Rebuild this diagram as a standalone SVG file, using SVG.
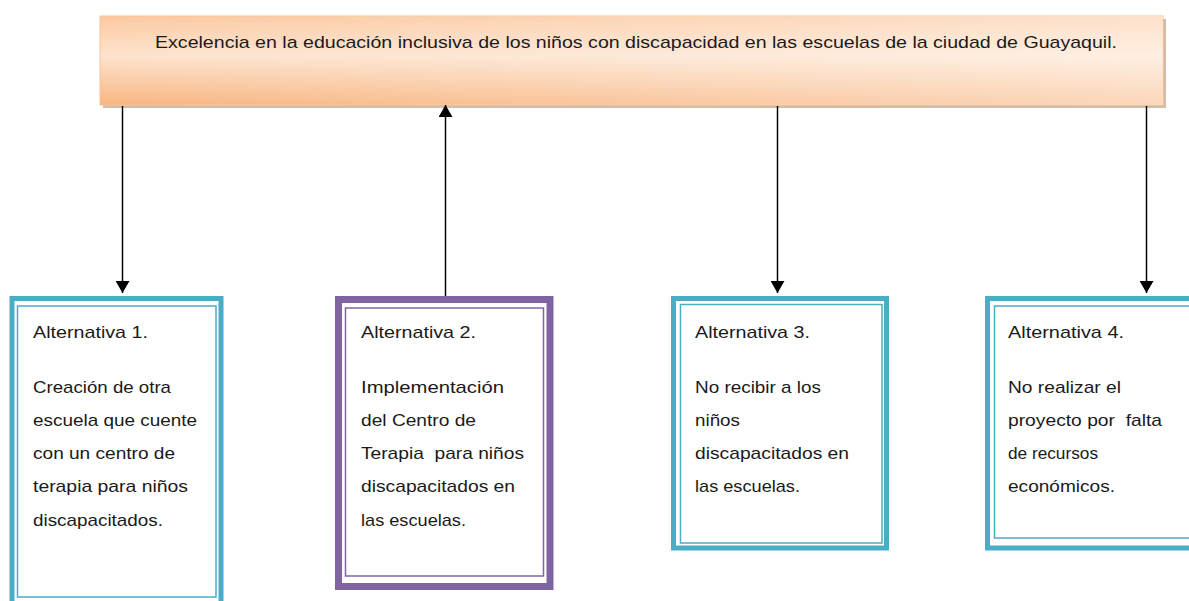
<svg xmlns="http://www.w3.org/2000/svg" width="1189" height="601" viewBox="0 0 1189 601">
<style>
text{font-family:"Liberation Sans",Arial,sans-serif;font-size:17px;fill:#1a1a1a;white-space:pre}
.cy{fill:#fff;stroke:#4bacc6}
.pu{fill:#fff;stroke:#8064a2}
.conn line{stroke:#000;stroke-width:1.5}
</style>
<defs>
<linearGradient id="og" x1="0" y1="0" x2="0" y2="1">
<stop offset="0" stop-color="#fbc9a1"/>
<stop offset="0.45" stop-color="#fde3ce"/>
<stop offset="1" stop-color="#f8b580"/>
</linearGradient>
<linearGradient id="ow" x1="0" y1="0" x2="1" y2="0">
<stop offset="0" stop-color="#fff" stop-opacity="0"/>
<stop offset="1" stop-color="#fff" stop-opacity="0.45"/>
</linearGradient>
<marker id="ah" viewBox="0 0 12 14" refX="12" refY="7" markerWidth="12" markerHeight="14" markerUnits="userSpaceOnUse" orient="auto">
<path d="M0,0 L12,7 L0,14 z" fill="#000"/>
</marker>
</defs>
<g id="top">
<rect x="103" y="19" width="1063" height="89" fill="#b98f6e" opacity="0.6"/>
<rect x="100" y="16" width="1063" height="89" fill="url(#og)" stroke="#f6c39a" stroke-width="1"/>
<rect x="100" y="16" width="1063" height="89" fill="url(#ow)"/>
<text x="155" y="48" textLength="962" lengthAdjust="spacingAndGlyphs">Excelencia en la educación inclusiva de los niños con discapacidad en las escuelas de la ciudad de Guayaquil.</text>
</g>
<g id="alt1">
<rect class="cy" x="12" y="298.5" width="209" height="320" stroke-width="5"/>
<rect class="cy" x="17.5" y="306" width="198.5" height="291" stroke-width="1.5"/>
<text x="33" y="338" textLength="115" lengthAdjust="spacingAndGlyphs">Alternativa 1.</text>
<text x="33" y="393" textLength="138" lengthAdjust="spacingAndGlyphs">Creación de otra</text>
<text x="33" y="426" textLength="164" lengthAdjust="spacingAndGlyphs">escuela que cuente</text>
<text x="33" y="459" textLength="142" lengthAdjust="spacingAndGlyphs">con un centro de</text>
<text x="33" y="492" textLength="155" lengthAdjust="spacingAndGlyphs">terapia para niños</text>
<text x="33" y="526" textLength="130" lengthAdjust="spacingAndGlyphs">discapacitados.</text>
</g>
<g id="alt2">
<rect class="pu" x="338.5" y="299.5" width="211.5" height="287" stroke-width="7"/>
<rect class="pu" x="345.5" y="308" width="198" height="268" stroke-width="1.5"/>
<text x="361" y="338" textLength="115" lengthAdjust="spacingAndGlyphs">Alternativa 2.</text>
<text x="361" y="393" textLength="143" lengthAdjust="spacingAndGlyphs">Implementación</text>
<text x="361" y="426" textLength="115" lengthAdjust="spacingAndGlyphs">del Centro de</text>
<text x="361" y="459" textLength="163" lengthAdjust="spacingAndGlyphs">Terapia  para niños</text>
<text x="361" y="492" textLength="154" lengthAdjust="spacingAndGlyphs">discapacitados en</text>
<text x="361" y="526" textLength="105" lengthAdjust="spacingAndGlyphs">las escuelas.</text>
</g>
<g id="alt3">
<rect class="cy" x="673.5" y="298.5" width="213" height="249.5" stroke-width="5"/>
<rect class="cy" x="680.5" y="304.5" width="201.5" height="238.5" stroke-width="1.5"/>
<text x="695" y="338" textLength="115" lengthAdjust="spacingAndGlyphs">Alternativa 3.</text>
<text x="695" y="393" textLength="126" lengthAdjust="spacingAndGlyphs">No recibir a los</text>
<text x="695" y="426" textLength="45" lengthAdjust="spacingAndGlyphs">niños</text>
<text x="695" y="459" textLength="154" lengthAdjust="spacingAndGlyphs">discapacitados en</text>
<text x="695" y="492" textLength="105" lengthAdjust="spacingAndGlyphs">las escuelas.</text>
</g>
<g id="alt4">
<rect class="cy" x="987.5" y="298.5" width="215" height="249.5" stroke-width="5"/>
<rect class="cy" x="994.5" y="306" width="210" height="232" stroke-width="1.5"/>
<text x="1008" y="338" textLength="116" lengthAdjust="spacingAndGlyphs">Alternativa 4.</text>
<text x="1008" y="393" textLength="113" lengthAdjust="spacingAndGlyphs">No realizar el</text>
<text x="1008" y="426" textLength="154" lengthAdjust="spacingAndGlyphs">proyecto por  falta</text>
<text x="1008" y="459" textLength="90" lengthAdjust="spacingAndGlyphs">de recursos</text>
<text x="1008" y="492" textLength="107" lengthAdjust="spacingAndGlyphs">económicos.</text>
</g>
<g id="connectors" class="conn">
<line x1="122.5" y1="106" x2="122.5" y2="293" marker-end="url(#ah)"/>
<line x1="445.5" y1="296" x2="445.5" y2="105" marker-end="url(#ah)"/>
<line x1="777.5" y1="106" x2="777.5" y2="293" marker-end="url(#ah)"/>
<line x1="1146.5" y1="106" x2="1146.5" y2="293" marker-end="url(#ah)"/>
</g>
</svg>
